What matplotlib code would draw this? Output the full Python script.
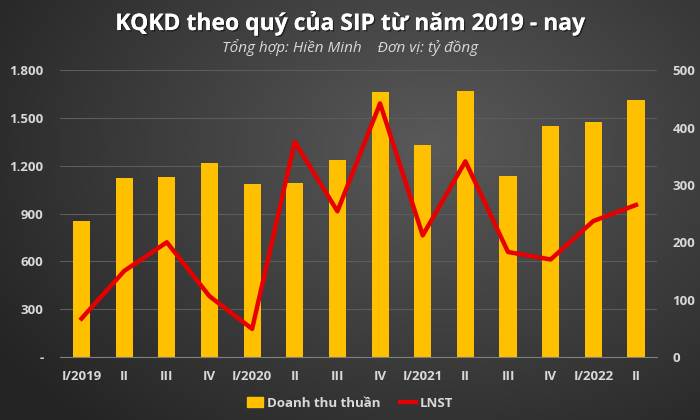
import numpy as np
import matplotlib.pyplot as plt
import matplotlib.patheffects as pe
from matplotlib.patches import Patch
from matplotlib.lines import Line2D

quarters = ["I/2019", "II", "III", "IV", "I/2020", "II", "III",
            "IV", "I/2021", "II", "III", "IV", "I/2022", "II"]
revenue = [851, 1121, 1129, 1215, 1085, 1089, 1238,
           1662, 1332, 1666, 1133, 1447, 1474, 1610]
profit = [67, 150, 200, 106, 49, 375, 254,
          442, 212, 341, 183, 170, 237, 265]

left_ticks = [0, 300, 600, 900, 1200, 1500, 1800]
left_labels = ["-", "300", "600", "900", "1.200", "1.500", "1.800"]
right_ticks = [0, 100, 200, 300, 400, 500]

plt.rcParams['font.family'] = ['Open Sans', 'DejaVu Sans']
txt = "#d9d9d9"

fig = plt.figure(figsize=(7, 4.2), dpi=100)

# dark radial background
bg = fig.add_axes([0, 0, 1, 1], zorder=-10)
yy, xx = np.mgrid[0:1:210j, 0:1:350j]
r = np.sqrt(((xx - 0.62) / 0.75) ** 2 + ((yy - 0.35) / 0.9) ** 2)
shade = np.clip(0.35 - 0.21 * r, 0.14, 0.35)
bg.imshow(np.dstack([shade] * 3), aspect="auto", extent=[0, 1, 0, 1])
bg.axis("off")

ax = fig.add_axes([0.086, 0.15, 0.853, 0.683])
ax.patch.set_alpha(0)
x = np.arange(len(quarters))
ax.bar(x, revenue, width=0.4, color="#FFC000", zorder=2)
ax.set_xlim(-0.5, len(quarters) - 0.5)
ax.set_ylim(0, 1800)
ax.set_yticks(left_ticks)
ax.set_yticklabels(left_labels)
ax.set_xticks(x)
ax.set_xticklabels(quarters)
ax.grid(axis="y", color="#5c5c5c", linewidth=0.8, zorder=0)
for s in ["top", "right", "left"]:
    ax.spines[s].set_visible(False)
ax.spines["bottom"].set_color("#808080")
ax.tick_params(axis="y", length=0, pad=12, colors=txt, labelsize=9.5)
ax.tick_params(axis="x", length=0, pad=9, colors=txt, labelsize=9.5)
for lab in ax.get_xticklabels() + ax.get_yticklabels():
    lab.set_fontweight("bold")

ax2 = ax.twinx()
ax2.plot(x, profit, color="#E60000", linewidth=3.2, zorder=3)
ax2.set_ylim(0, 500)
ax2.set_yticks(right_ticks)
for s in ax2.spines.values():
    s.set_visible(False)
ax2.tick_params(axis="y", length=0, pad=11, colors=txt, labelsize=9.5)
for lab in ax2.get_yticklabels():
    lab.set_fontweight("bold")

shadow = [pe.withSimplePatchShadow(offset=(1, -1), shadow_rgbFace="black", alpha=0.5), pe.Normal()]
fig.text(0.5, 0.945, "KQKD theo quý của SIP từ năm 2019 - nay",
         ha="center", va="center", color="white", fontsize=16.5, fontweight="bold",
         path_effects=shadow)
fig.text(0.5, 0.888, "Tổng hợp: Hiền Minh    Đơn vị: tỷ đồng",
         ha="center", va="center", color=txt, fontsize=11, style="italic")

handles = [Patch(color="#FFC000"), Line2D([0], [0], color="#E60000", linewidth=3)]
leg = fig.legend(handles, ["Doanh thu thuần", "LNST"], loc="center",
                 bbox_to_anchor=(0.5, 0.04), ncol=2, frameon=False,
                 handlelength=1.2, handletextpad=0.3, columnspacing=1.5,
                 prop={"size": 9.5, "weight": "bold"})
for t in leg.get_texts():
    t.set_color(txt)

fig.savefig("out.png", dpi=100)
